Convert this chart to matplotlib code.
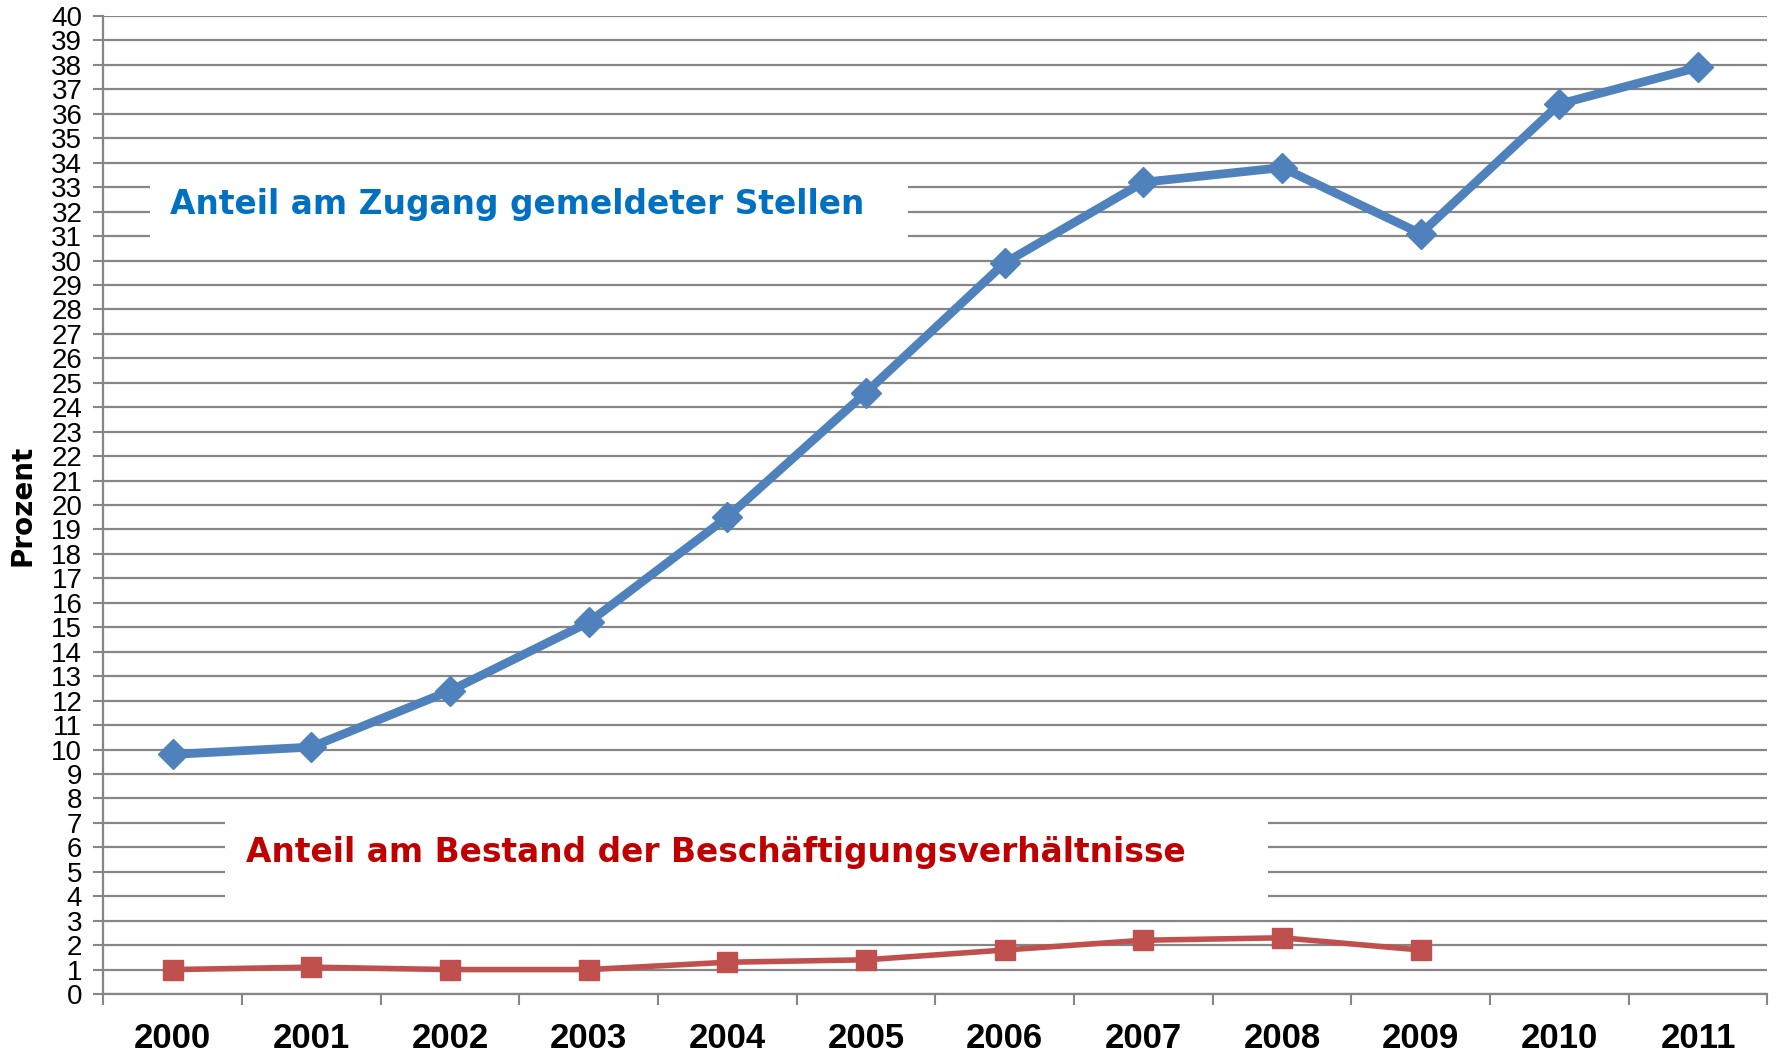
import matplotlib
matplotlib.use("Agg")
import matplotlib.pyplot as plt
from matplotlib.patches import Rectangle

years = ["2000", "2001", "2002", "2003", "2004", "2005",
         "2006", "2007", "2008", "2009", "2010", "2011"]
zugang = [9.8, 10.1, 12.4, 15.2, 19.5, 24.6, 29.9, 33.2, 33.8, 31.1, 36.4, 37.9]
bestand = [1.0, 1.1, 1.0, 1.0, 1.3, 1.4, 1.8, 2.2, 2.3, 1.8]

label_zugang = "Anteil am Zugang gemeldeter Stellen"
label_bestand = "Anteil am Bestand der Beschäftigungsverhältnisse"

GRID = "#868686"

plt.rcParams['font.family'] = ['Liberation Sans', 'DejaVu Sans']

fig = plt.figure(figsize=(17.79, 10.53), dpi=100)
ax = fig.add_axes([0.058, 0.056, 0.9355, 0.9288])

x = list(range(len(years)))
ax.plot(x, zugang, color="#4F81BD", lw=6.3, marker="D", ms=15, zorder=3)
ax.plot(x[:len(bestand)], bestand, color="#C0504D", lw=4, marker="s", ms=14, zorder=3)

ax.set_xlim(-0.5, len(years) - 0.5)
ax.set_ylim(0, 40)
ax.set_yticks(range(0, 41))
ax.set_xticks(x)
ax.set_xticklabels(years, fontsize=25, fontweight="bold")
ax.set_xticks([i - 0.5 for i in range(len(years) + 1)], minor=True)
ax.tick_params(axis="x", which="major", length=0, pad=20)
ax.tick_params(axis="x", which="minor", length=8, width=1.5, color=GRID, direction="out")
ax.tick_params(axis="y", length=7, width=1.5, color=GRID, labelsize=20, pad=8)

ax.set_axisbelow(True)
ax.grid(axis="y", color=GRID, lw=1.6)
for s in ["top", "right"]:
    ax.spines[s].set_visible(False)
for s in ["left", "bottom"]:
    ax.spines[s].set_color(GRID)
    ax.spines[s].set_linewidth(1.6)

ax.set_ylabel("Prozent", fontsize=20, fontweight="bold",
              family=['DejaVu Sans'])
ax.yaxis.set_label_coords(-0.04, 0.5)

# white boxes behind the series labels
ax.add_patch(Rectangle((-0.16, 30.5), 5.46, 3.1, facecolor="white",
                       edgecolor="none", zorder=1))
ax.add_patch(Rectangle((0.38, 3.5), 7.52, 4.0, facecolor="white",
                       edgecolor="none", zorder=1))
ax.text(-0.02, 32.3, label_zugang, color="#0070C0", fontsize=23.7,
        fontweight="bold", family=['DejaVu Sans'], va="center", ha="left", zorder=2)
ax.text(0.53, 5.77, label_bestand, color="#C00000", fontsize=23.7,
        fontweight="bold", family=['DejaVu Sans'], va="center", ha="left", zorder=2)

fig.savefig("out.png", dpi=100)
